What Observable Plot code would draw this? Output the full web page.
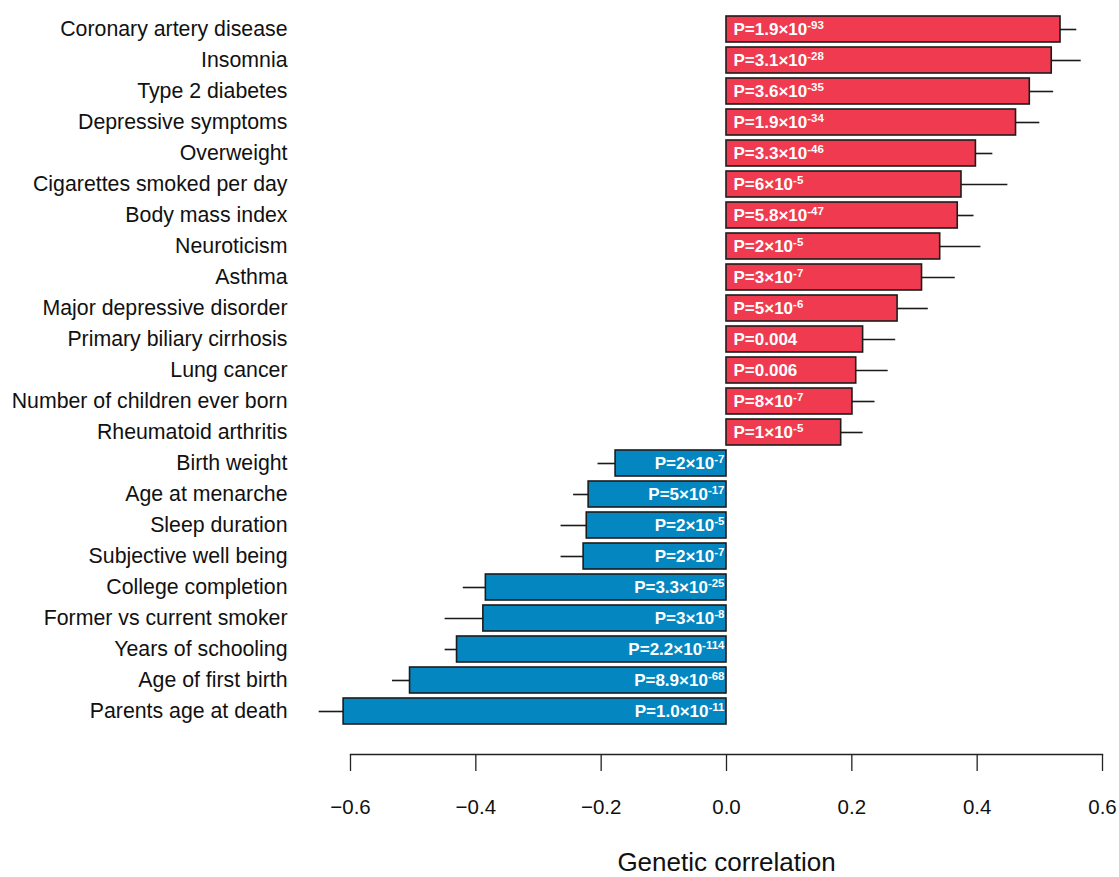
<!DOCTYPE html>
<html>
<head>
<meta charset="utf-8">
<script src="https://cdn.jsdelivr.net/npm/d3@7"></script>
<script src="https://cdn.jsdelivr.net/npm/@observablehq/plot@0.6"></script>
<style>
  html, body { margin: 0; padding: 0; background: #fff; }
  #chart { width: 1119px; height: 877px; }
</style>
</head>
<body>
<div id="chart"></div>
<script>
const traits = [
  "Coronary artery disease", "Insomnia", "Type 2 diabetes", "Depressive symptoms",
  "Overweight", "Cigarettes smoked per day", "Body mass index", "Neuroticism",
  "Asthma", "Major depressive disorder", "Primary biliary cirrhosis", "Lung cancer",
  "Number of children ever born", "Rheumatoid arthritis", "Birth weight",
  "Age at menarche", "Sleep duration", "Subjective well being", "College completion",
  "Former vs current smoker", "Years of schooling", "Age of first birth",
  "Parents age at death"
];
const rg = [
  0.533, 0.519, 0.484, 0.462, 0.398, 0.375, 0.369, 0.341, 0.312, 0.273, 0.218, 0.207,
  0.201, 0.183, -0.177, -0.220, -0.223, -0.228, -0.384, -0.388, -0.430, -0.505, -0.611
];
const ciEnd = [
  0.559, 0.566, 0.522, 0.500, 0.425, 0.449, 0.395, 0.406, 0.365, 0.322, 0.270, 0.258,
  0.237, 0.218, -0.205, -0.244, -0.264, -0.264, -0.420, -0.449, -0.449, -0.533, -0.650
];
const pMantissa = [
  "1.9", "3.1", "3.6", "1.9", "3.3", "6", "5.8", "2", "3", "5", "0.004", "0.006",
  "8", "1", "2", "5", "2", "2", "3.3", "3", "2.2", "8.9", "1.0"
];
const pExponent = [
  "-93", "-28", "-35", "-34", "-46", "-5", "-47", "-5", "-7", "-6", "", "",
  "-7", "-5", "-7", "-17", "-5", "-7", "-25", "-8", "-114", "-68", "-11"
];
const xTicks = [-0.6, -0.4, -0.2, 0.0, 0.2, 0.4, 0.6];

const data = traits.map((t, i) => ({
  trait: t, rg: rg[i], ci: ciEnd[i],
  sign: rg[i] > 0 ? "positive" : "negative",
  label: "P=" + pMantissa[i] + (pExponent[i] ? "×10|" + pExponent[i] : "")
}));

const chart = Plot.plot({
  width: 1119,
  height: 877,
  marginLeft: 350,
  marginRight: 17,
  marginTop: 0,
  marginBottom: 123,
  style: { fontFamily: "'Liberation Sans', Arial, sans-serif", background: "#fff", color: "#111" },
  x: { domain: [-0.6, 0.6] },
  y: { domain: traits, range: [10.8, 728.5], paddingInner: 0.16, paddingOuter: 0.08 },
  color: { domain: ["positive", "negative"], range: ["#F03A50", "#0486C0"] },
  marks: [
    Plot.frame({ anchor: "bottom", stroke: "#222", strokeWidth: 1.3 }),
    Plot.axisX({
      ticks: xTicks, tickFormat: d3.format(".1f"), tickSize: 17, tickPadding: 28,
      fontSize: 20.5, stroke: "#222", strokeWidth: 1.3,
      label: "Genetic correlation", labelAnchor: "center", labelArrow: "none", labelOffset: 116
    }),
    Plot.axisY({ tickSize: 0, tickPadding: 63, fontSize: 21.3, label: null }),
    Plot.ruleY(data, { y: "trait", x1: "rg", x2: "ci", stroke: "#1a1a1a", strokeWidth: 1.6 }),
    Plot.barX(data, { x: "rg", y: "trait", fill: "sign", stroke: "#1c1c1c", strokeWidth: 1.6 }),
    Plot.text(data.filter(d => d.rg > 0), {
      x: 0, y: "trait", text: "label", textAnchor: "start", dx: 7,
      fill: "white", fontWeight: "bold", fontSize: 17, className: "plabel"
    }),
    Plot.text(data.filter(d => d.rg < 0), {
      x: 0, y: "trait", text: "label", textAnchor: "end", dx: -2,
      fill: "white", fontWeight: "bold", fontSize: 17, className: "plabel"
    })
  ]
});

// render exponents as superscripts
chart.querySelectorAll(".plabel text").forEach(t => {
  const s = t.textContent;
  if (s.includes("|")) {
    const [base, exp] = s.split("|");
    t.textContent = base;
    const ts = document.createElementNS("http://www.w3.org/2000/svg", "tspan");
    ts.setAttribute("font-size", "11.5");
    ts.setAttribute("dy", "-6");
    ts.textContent = exp;
    t.appendChild(ts);
  }
});
// axis title size
chart.querySelectorAll("g[aria-label='x-axis label'] text").forEach(t => {
  t.setAttribute("font-size", "26");
});

document.getElementById("chart").appendChild(chart);
</script>
</body>
</html>
